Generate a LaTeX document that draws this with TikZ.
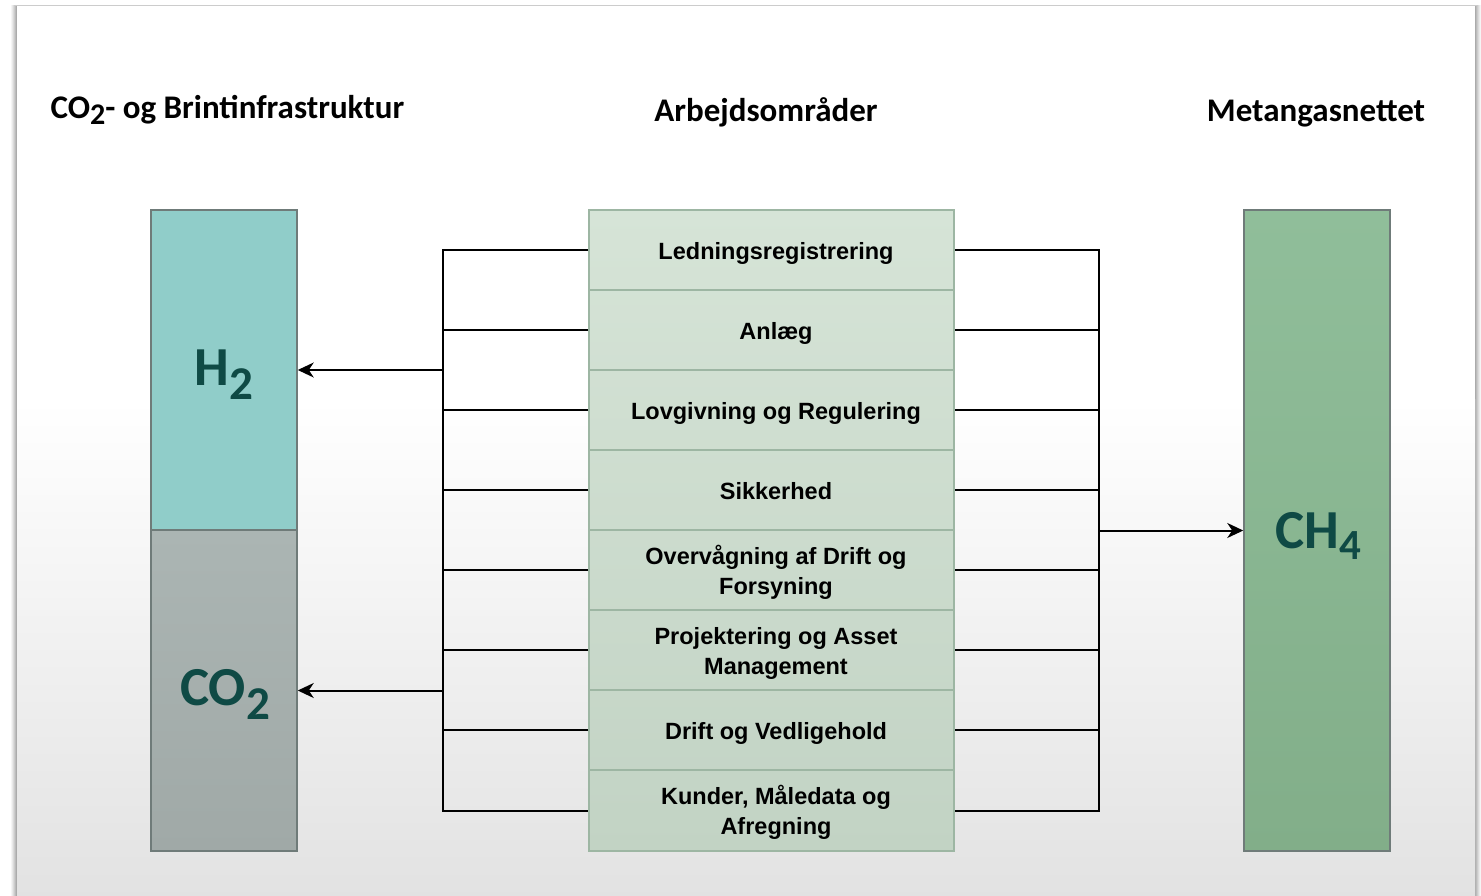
\documentclass[tikz,border=0pt]{standalone}
\usepackage{fontspec}
\setmainfont{Liberation Sans}
\newfontfamily\calfont{Carlito}
\usetikzlibrary{arrows.meta}
\definecolor{hfill}{HTML}{90CDC9}
\definecolor{cotop}{HTML}{ABB5B3}
\definecolor{cobot}{HTML}{A0A9A7}
\definecolor{chtop}{HTML}{90BE9A}
\definecolor{chbot}{HTML}{82AE89}
\definecolor{midtop}{HTML}{D6E4D7}
\definecolor{midbot}{HTML}{C2D3C4}
\definecolor{midline}{HTML}{9DB6A3}
\definecolor{boxline}{HTML}{6F7B79}
\definecolor{chemtext}{HTML}{0F4A45}
\definecolor{bgbot}{HTML}{E2E2E2}
\newcommand{\rowtxt}[1]{\raisebox{-3pt}[\height][\depth]{\hspace*{9pt}\begin{tabular}{@{}c@{}}#1\end{tabular}}}
\tikzset{
  colbox/.style={draw=boxline, line width=1.5pt, inner sep=0pt, minimum width=146pt},
  rowbox/.style={draw=midline, line width=1.5pt, inner sep=0pt, minimum width=365pt, minimum height=80pt,
    font=\fontsize{23.5}{30}\selectfont\bfseries, text=black},
  chem/.style={anchor=base, text=chemtext, font=\calfont\fontsize{55}{55}\selectfont\bfseries},
  ttl/.style={anchor=base, font=\calfont\fontsize{33}{33}\selectfont\bfseries},
  conn/.style={line width=2pt, black},
  arr/.style={conn, -{Stealth[length=16pt,width=15pt,inset=5pt]}}
}
\begin{document}
\begin{tikzpicture}[x=1pt,y=-1pt]
\useasboundingbox (0,0) rectangle (1481,895);
% shadow
\foreach \s/\o in {6/0.04,5/0.05,4/0.06,3/0.07,2/0.08,1/0.09}{
  \fill[black, opacity=\o] (17-\s,6-\s*0.2) rectangle (1475+\s,900);
}
% panel
\fill[white] (17,6) rectangle (1475,400);
\shade[top color=white, bottom color=bgbot] (17,399.5) rectangle (1475,900);
% titles
\node[ttl, anchor=base west] (t1) at (47,118) {CO\raisebox{-6pt}{\fontsize{30}{30}\selectfont 2}- og Brintinfrastruktur};
\node[ttl] (t2) at (766,121) {Arbejdsområder};
\node[ttl] (t3) at (1316,121) {Metangasnettet};
% side boxes
\node[colbox, minimum height=320pt, fill=hfill] (h2) at (224,370) {};
\node[colbox, minimum height=321pt, top color=cotop, bottom color=cobot] (co2) at (224,690.5) {};
\node[colbox, minimum height=641pt, top color=chtop, bottom color=chbot] (ch4) at (1317,530.5) {};
% middle column
\shade[top color=midtop, bottom color=midbot] (589,210) rectangle (954,851);
\node[rowbox] (r1) at (771.5,250) {\rowtxt{Ledningsregistrering}};
\node[rowbox] (r2) at (771.5,330) {\rowtxt{Anlæg}};
\node[rowbox] (r3) at (771.5,410) {\rowtxt{Lovgivning og Regulering}};
\node[rowbox] (r4) at (771.5,490) {\rowtxt{Sikkerhed}};
\node[rowbox] (r5) at (771.5,570) {\rowtxt{Overvågning af Drift og\\Forsyning}};
\node[rowbox] (r6) at (771.5,650) {\rowtxt{Projektering og Asset\\Management}};
\node[rowbox] (r7) at (771.5,730) {\rowtxt{Drift og Vedligehold}};
\node[rowbox, minimum height=81pt] (r8) at (771.5,810.5) {\rowtxt{Kunder, Måledata og\\Afregning}};
% buses
\coordinate (lbus) at (443,0);
\coordinate (rbus) at (1099,0);
\draw[conn] (r1.west) -| (r8.west -| lbus) -- (r8.west);
\draw[conn] (r1.east) -| (r8.east -| rbus) -- (r8.east);
\foreach \i in {2,...,7}{
  \draw[conn] (r\i.west) -- (r\i.west -| lbus);
  \draw[conn] (r\i.east) -- (r\i.east -| rbus);
}
\draw[arr] (h2.east -| lbus) -- (h2.east);
\draw[arr] (co2.east -| lbus) -- (co2.east);
\draw[arr] (ch4.west -| rbus) -- (ch4.west);
% chemical labels
\node[chem] (h2l) at (224,385) {H\raisebox{-14pt}{\fontsize{47}{47}\selectfont 2}};
\node[chem] (co2l) at (225,705) {CO\raisebox{-14pt}{\fontsize{47}{47}\selectfont 2}};
\node[chem] (ch4l) at (1318,548) {CH\raisebox{-11pt}{\fontsize{43}{43}\selectfont 4}};
\end{tikzpicture}
\end{document}
